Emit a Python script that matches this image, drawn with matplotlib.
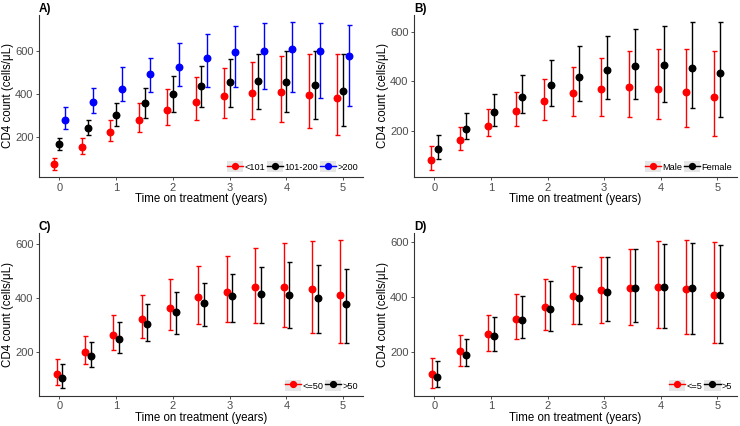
import matplotlib.pyplot as plt
from matplotlib.lines import Line2D
from matplotlib.patches import Rectangle
from matplotlib.legend_handler import HandlerLine2D

plt.rcParams["font.family"] = ["Liberation Sans", "DejaVu Sans"]

years = [0, 0.5, 1, 1.5, 2, 2.5, 3, 3.5, 4, 4.5, 5]

# A) baseline CD4 group
a_low_mean = [74, 155, 225, 279, 324, 363, 391, 405, 408, 397, 381]
a_low_lo   = [48, 122, 180, 223, 254, 278, 288, 285, 268, 242, 211]
a_low_hi   = [102, 195, 281, 357, 422, 478, 522, 552, 577, 588, 588]
a_mid_mean = [167, 243, 305, 360, 402, 437, 456, 462, 456, 443, 414]
a_mid_lo   = [141, 208, 253, 290, 319, 340, 338, 330, 318, 285, 250]
a_mid_hi   = [195, 281, 360, 430, 485, 533, 566, 589, 602, 602, 589]
a_high_mean = [278, 363, 423, 495, 529, 571, 595, 603, 611, 600, 577]
a_high_lo   = [236, 310, 367, 408, 436, 434, 434, 423, 412, 381, 344]
a_high_hi   = [341, 431, 527, 569, 637, 681, 719, 732, 735, 732, 723]

# B) sex
b_male_mean = [83, 161, 219, 278, 321, 352, 368, 376, 370, 356, 337]
b_male_lo   = [43, 124, 179, 220, 243, 258, 258, 255, 248, 215, 179]
b_male_hi   = [137, 216, 289, 357, 411, 456, 494, 522, 530, 530, 522]
b_fem_mean  = [125, 209, 276, 337, 384, 417, 444, 462, 464, 452, 434]
b_fem_lo    = [85, 165, 221, 270, 299, 322, 330, 330, 317, 291, 254]
b_fem_hi    = [181, 270, 350, 424, 485, 542, 583, 611, 625, 638, 638]

# C) age
c_le50_mean = [116, 200, 263, 321, 362, 402, 424, 441, 441, 432, 412]
c_le50_lo   = [75, 152, 207, 251, 282, 304, 311, 308, 290, 271, 231]
c_le50_hi   = [174, 259, 337, 412, 472, 520, 558, 586, 606, 612, 615]
c_gt50_mean = [102, 184, 246, 304, 349, 381, 409, 414, 412, 399, 376]
c_gt50_lo   = [63, 142, 196, 238, 264, 295, 309, 308, 288, 269, 231]
c_gt50_hi   = [155, 236, 310, 377, 422, 455, 489, 516, 533, 522, 508]

# D)
d_le5_mean = [118, 204, 263, 320, 361, 401, 425, 432, 434, 428, 407]
d_le5_lo   = [67, 147, 204, 247, 280, 301, 306, 298, 286, 264, 230]
d_le5_hi   = [176, 262, 334, 410, 466, 512, 544, 575, 604, 605, 598]
d_gt5_mean = [107, 189, 258, 315, 357, 396, 419, 433, 437, 431, 407]
d_gt5_lo   = [71, 147, 201, 250, 277, 302, 310, 309, 287, 266, 230]
d_gt5_hi   = [165, 248, 327, 403, 457, 509, 544, 572, 593, 596, 588]

red, black, blue = "#FF0000", "#000000", "#0000FF"


class KeyHandler(HandlerLine2D):
    # grey key box like ggplot legend keys
    def create_artists(self, legend, orig_handle, xdescent, ydescent,
                       width, height, fontsize, trans):
        bg = Rectangle((-xdescent, -ydescent), width, height,
                       facecolor="#E6E6E6", edgecolor="none", transform=trans)
        arts = super().create_artists(legend, orig_handle, xdescent, ydescent,
                                      width, height, fontsize, trans)
        return [bg] + list(arts)


def draw_panel(ax, label, groups, offsets):
    handles = []
    for (name, color, mean, lo, hi), off in zip(groups, offsets):
        x = [t + off for t in years]
        err = [[m - l for m, l in zip(mean, lo)], [h - m for m, h in zip(mean, hi)]]
        ax.errorbar(x, mean, yerr=err, fmt="o", color=color, ecolor=color,
                    markersize=4.7, elinewidth=1.0, capsize=1.8, capthick=1.0)
        handles.append(Line2D([], [], color=color, marker="o", markersize=4.2, lw=1, label=name))
    ax.margins(y=0.05)
    ax.set_xlim(-0.36, 5.35)
    ax.set_xticks([0, 1, 2, 3, 4, 5])
    ax.set_yticks([200, 400, 600])
    for s in ["top", "right"]:
        ax.spines[s].set_visible(False)
    for s in ["left", "bottom"]:
        ax.spines[s].set_color("#333333")
        ax.spines[s].set_linewidth(0.8)
    ax.tick_params(colors="#333333", labelcolor="#4D4D4D", labelsize=8,
                   length=2.5, width=0.6, pad=1.5)
    ax.set_xlabel("Time on treatment (years)", fontsize=8.3, labelpad=0.5)
    ax.set_ylabel("CD4 count (cells/μL)", fontsize=8.3, labelpad=1)
    ax.set_title(label, loc="left", fontsize=8.5, fontweight="bold", pad=2.5)
    ax.legend(handles=handles, loc="lower right", ncol=len(handles), frameon=False,
              fontsize=6.6, handlelength=1.8, handleheight=1.5, handletextpad=0.15,
              columnspacing=0.15, borderaxespad=0.5, borderpad=0,
              handler_map={Line2D: KeyHandler()})


fig = plt.figure(figsize=(7.4, 4.26), dpi=100)
ax_a = fig.add_axes([0.0527, 0.5845, 0.4378, 0.3803])
ax_b = fig.add_axes([0.5595, 0.5845, 0.4365, 0.3803])
ax_c = fig.add_axes([0.0527, 0.0711, 0.4378, 0.3820])
ax_d = fig.add_axes([0.5595, 0.0711, 0.4365, 0.3820])

draw_panel(ax_a, "A)", [("<101", red, a_low_mean, a_low_lo, a_low_hi),
                        ("101-200", black, a_mid_mean, a_mid_lo, a_mid_hi),
                        (">200", blue, a_high_mean, a_high_lo, a_high_hi)], [-0.1, 0, 0.1])
draw_panel(ax_b, "B)", [("Male", red, b_male_mean, b_male_lo, b_male_hi),
                        ("Female", black, b_fem_mean, b_fem_lo, b_fem_hi)], [-0.055, 0.055])
draw_panel(ax_c, "C)", [("<=50", red, c_le50_mean, c_le50_lo, c_le50_hi),
                        (">50", black, c_gt50_mean, c_gt50_lo, c_gt50_hi)], [-0.05, 0.05])
draw_panel(ax_d, "D)", [("<=5", red, d_le5_mean, d_le5_lo, d_le5_hi),
                        (">5", black, d_gt5_mean, d_gt5_lo, d_gt5_hi)], [-0.05, 0.05])

fig.savefig("out.png", dpi=100)
